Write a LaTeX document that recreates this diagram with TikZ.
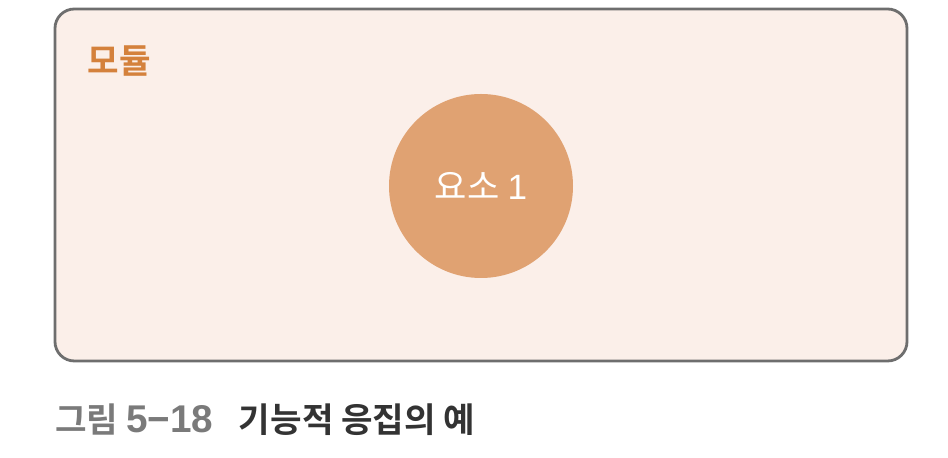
\documentclass[tikz,border=0pt]{standalone}
\usepackage{fontspec}
\newfontfamily\kr{Noto Sans CJK KR}
\newfontfamily\krbold{Noto Sans CJK KR Bold}
\newfontfamily\lat{Liberation Sans}
\usepackage{xcolor}
\usepackage{tikz}
\usetikzlibrary{positioning, calc}
\definecolor{modfill}{HTML}{FBEFE9}
\definecolor{modline}{HTML}{6E6E6E}
\definecolor{elemfill}{HTML}{E0A272}
\definecolor{modtext}{HTML}{D4813C}
\definecolor{capgray}{HTML}{7A7A7A}
\definecolor{capdark}{HTML}{333333}
\tikzset{
  modbox/.style={rectangle, draw=modline, line width=1.6pt, fill=modfill, rounded corners=11pt, minimum width=17.04cm, minimum height=7.04cm, inner sep=0pt},
  elembox/.style={circle, fill=elemfill, minimum size=3.68cm, inner sep=0pt, text=white, font=\kr\fontsize{20}{22}\selectfont},
  titletext/.style={text=modtext, font=\krbold\fontsize{19.5}{22}\selectfont, inner sep=0pt},
  captext/.style={font=\krbold\fontsize{19.5}{22}\selectfont, inner sep=0pt, anchor=base west},
}

\begin{document}
\begin{tikzpicture}
  \useasboundingbox (0,0) rectangle (18.96,9.16);
  % Module box
  \node[modbox] (mod) at (9.62,5.46) {};
  \node[titletext] (modname) at (2.38,7.94) {모듈};

  % Element
  \node[elembox] (elem) at (9.62,5.44) {요소 {\lat 1}};

  % Caption
  \node[captext, text=capgray] (fignum) at (1.1,0.5) {그림 {\lat\bfseries\fontsize{22}{24}\selectfont 5−18}};
  \node[captext, text=capdark, right=0.5cm of fignum.base east, anchor=base west] (figcap) {기능적 응집의 예};
\end{tikzpicture}
\end{document}
